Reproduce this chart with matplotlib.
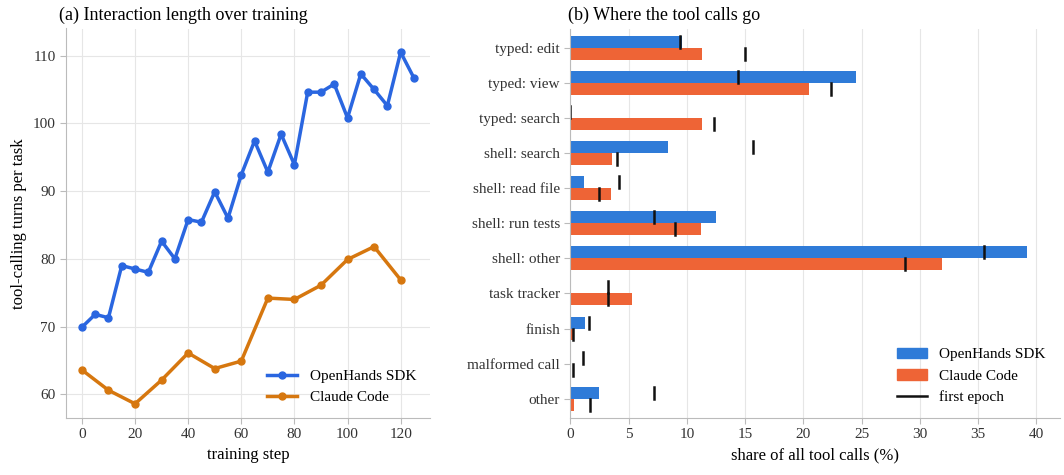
import matplotlib
matplotlib.use("Agg")
import matplotlib.pyplot as plt
import numpy as np
from matplotlib.lines import Line2D
from matplotlib.patches import Patch

plt.rcParams['font.family'] = ['Liberation Serif', 'DejaVu Serif']

oh_steps = [0,5,10,15,20,25,30,35,40,45,50,55,60,65,70,75,80,85,90,95,100,105,110,115,120,125]
oh_turns = [69.9,71.8,71.3,79.0,78.5,78.0,82.6,80.0,85.8,85.4,89.9,86.0,92.4,97.4,92.8,98.4,93.9,104.6,104.6,105.8,100.8,107.3,105.0,102.6,110.5,106.7]
cc_steps = [0,10,20,30,40,50,60,70,80,90,100,110,120]
cc_turns = [63.6,60.6,58.6,62.1,66.1,63.8,64.9,74.2,74.0,76.1,79.9,81.8,76.9]

categories = ["typed: edit","typed: view","typed: search","shell: search","shell: read file",
              "shell: run tests","shell: other","task tracker","finish","malformed call","other"]
oh_share = [9.6,24.5,0.0,8.4,1.2,12.5,39.2,0.0,1.3,0.1,2.5]
cc_share = [11.3,20.5,11.3,3.6,3.5,11.2,31.9,5.3,0.2,0.05,0.3]
oh_first = [9.4,14.4,0.0,15.7,4.2,7.2,35.5,3.2,1.6,1.1,7.2]
cc_first = [15.0,22.4,12.3,4.0,2.5,9.0,28.7,3.2,0.25,0.2,1.7]

BLUE_L = "#2a66e0"; ORANGE_L = "#d6770f"
BLUE_B = "#2f7bd8"; ORANGE_B = "#ee6436"
SP = "#bbbbbb"

fig = plt.figure(figsize=(10.64, 4.75), dpi=100)
ax1 = fig.add_axes([0.062, 0.12, 0.342, 0.82])
ax2 = fig.add_axes([0.536, 0.12, 0.46, 0.82])

for ax in (ax1, ax2):
    for s in ("top", "right"):
        ax.spines[s].set_visible(False)
    for s in ("left", "bottom"):
        ax.spines[s].set_color(SP)
    ax.tick_params(colors="#333333", labelsize=11, length=4, color=SP)
    ax.set_axisbelow(True)

ax1.grid(True, color="#e6e6e6", lw=0.8)
ax1.plot(oh_steps, oh_turns, "-o", color=BLUE_L, lw=2.5, ms=5, label="OpenHands SDK")
ax1.plot(cc_steps, cc_turns, "-o", color=ORANGE_L, lw=2.5, ms=5, label="Claude Code")
ax1.set_xlim(-6, 131)
ax1.set_ylim(56.5, 114)
ax1.set_xticks(range(0, 121, 20))
ax1.set_yticks(range(60, 111, 10))
ax1.set_xlabel("training step", fontsize=12)
ax1.set_ylabel("tool-calling turns per task", fontsize=12)
ax1.set_title("(a) Interaction length over training", fontsize=13, loc="left", x=-0.02)
ax1.legend(loc="lower right", frameon=False, fontsize=11)

y = np.arange(len(categories))
h = 0.34
ax2.grid(True, axis="x", color="#e6e6e6", lw=0.8)
ax2.barh(y - h/2, oh_share, height=h, color=BLUE_B)
ax2.barh(y + h/2, cc_share, height=h, color=ORANGE_B)
for i in range(len(categories)):
    ax2.plot([oh_first[i]]*2, [y[i]-h/2-0.17, y[i]-h/2+0.17], color="#111111", lw=1.8)
    ax2.plot([cc_first[i]]*2, [y[i]+h/2-0.17, y[i]+h/2+0.17], color="#111111", lw=1.8)
ax2.set_yticks(y)
ax2.set_yticklabels(categories)
ax2.set_ylim(len(categories) - 0.45, -0.55)
ax2.set_xlim(0, 42)
ax2.set_xticks(range(0, 41, 5))
ax2.set_xlabel("share of all tool calls (%)", fontsize=12)
ax2.set_title("(b) Where the tool calls go", fontsize=13, loc="left", x=-0.005)
handles = [Patch(color=BLUE_B, label="OpenHands SDK"), Patch(color=ORANGE_B, label="Claude Code"),
           Line2D([], [], color="#111111", lw=1.8, label="first epoch")]
ax2.legend(handles=handles, loc="lower right", frameon=False, fontsize=11)

fig.savefig("out.png", dpi=100)
